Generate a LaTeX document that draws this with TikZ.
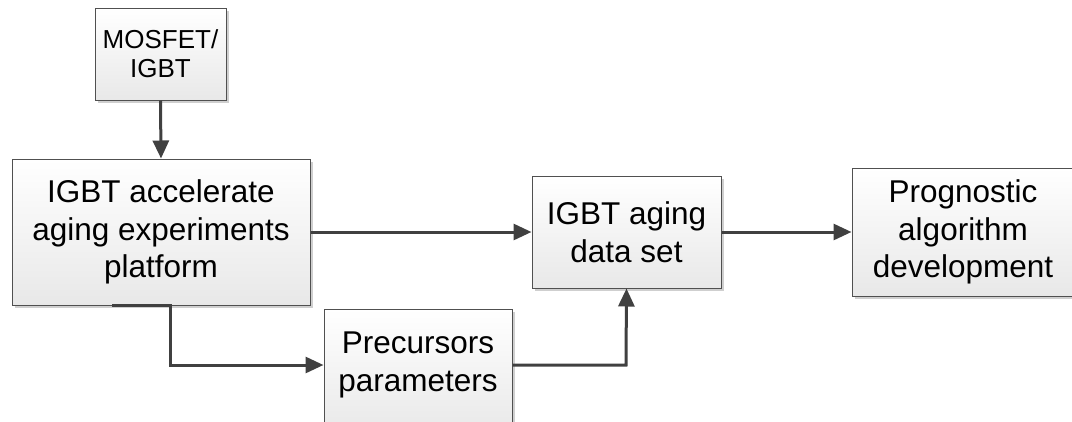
\documentclass[tikz,border=0pt]{standalone}
\usepackage{fontspec}
\setmainfont{Liberation Sans}
\usetikzlibrary{arrows.meta,shadows}
\definecolor{edgegray}{HTML}{505050}
\definecolor{linegray}{HTML}{404040}
\definecolor{shadowgray}{HTML}{CFCFCF}
\tikzset{
  block/.style={draw=edgegray, line width=1pt, rectangle, align=center,
    top color=white, bottom color=black!9,
    drop shadow={shadow xshift=3pt, shadow yshift=-3pt, fill=shadowgray, opacity=1},
    inner sep=0pt, font=\fontsize{31.5}{37.5}\selectfont},
  smallblock/.style={block, font=\fontsize{26}{29}\selectfont},
  blocktext/.style={align=center, inner sep=0pt, font=\fontsize{31.5}{37.5}\selectfont},
  flow/.style={draw=linegray, line width=3pt,
    -{Triangle[length=18pt,width=16pt]}},
}
\begin{document}
\begin{tikzpicture}[x=1pt,y=-1pt]
\useasboundingbox (0,0) rectangle (1072,421);
% blocks
\node[smallblock, minimum width=131pt, minimum height=92pt] (mos) at (160.5,54) {MOSFET/\\IGBT};
\node[block, minimum width=298pt, minimum height=146pt] (plat) at (161,232) {IGBT accelerate\\aging experiments\\platform};
\node[block, minimum width=189pt, minimum height=112pt] (data) at (626.5,232) {IGBT aging\\data set};
\node[block, minimum width=222pt, minimum height=128pt] (prog) at (963,232) {Prognostic\\algorithm\\development};
% this block runs past the lower edge; its text sits above the box centre
\node[block, minimum width=188pt, minimum height=126pt,
  label={[blocktext, yshift=7pt]center:{Precursors\\parameters}}] (prec) at (418,372) {};
% connectors
\draw[flow] (mos.south) -- (plat.north);
\draw[flow] (plat.east) -- (data.west);
\draw[flow] (data.east) -- (prog.west);
\coordinate (tap) at (112,305);
\draw[flow] (tap) -- (170,305) -- (170,365) -- (prec.west |- 0,365);
\draw[flow] (prec.east |- 0,365) -- (626,365) -- (data.south);
\end{tikzpicture}
\end{document}
